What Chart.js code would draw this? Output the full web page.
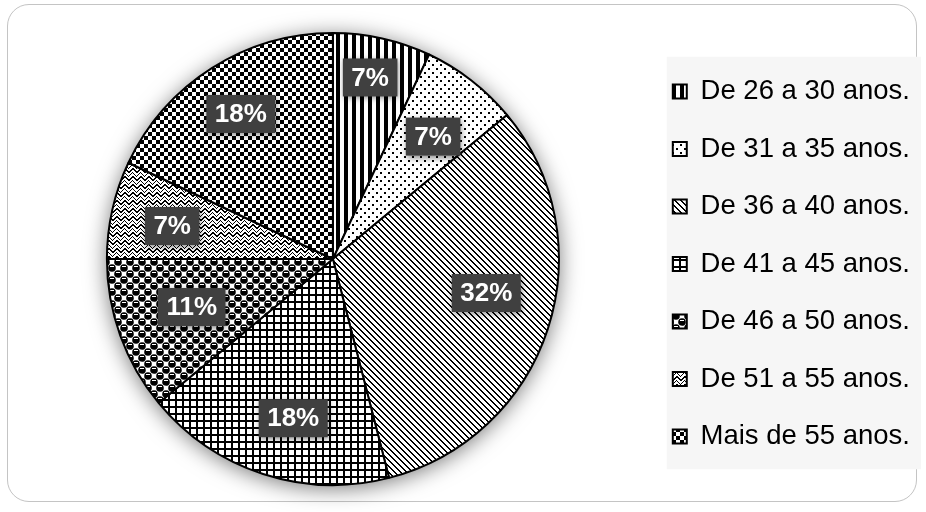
<!DOCTYPE html>
<html lang="pt">
<head>
    <meta charset="UTF-8">
    <title>Faixa etária</title>
    <script src="https://cdn.jsdelivr.net/npm/chart.js"></script>
    <style>
        body { margin: 0; background: #fff; }
        #frame { position: absolute; left: 7px; top: 4px; width: 908px; height: 496px; border: 1.5px solid #c4c4c4; border-radius: 22px; }
        #ageChart { position: absolute; left: 0; top: 0; }
    </style>
</head>
<body>
    <div id="frame"></div>
    <canvas id="ageChart" width="926" height="512"></canvas>

    <script>
        const faixas = ['De 26 a 30 anos.', 'De 31 a 35 anos.', 'De 36 a 40 anos.', 'De 41 a 45 anos.',
                        'De 46 a 50 anos.', 'De 51 a 55 anos.', 'Mais de 55 anos.'];
        const percentuais = [7, 7, 32, 18, 11, 7, 18];

        const canvas = document.getElementById('ageChart');
        const ctx = canvas.getContext('2d');

        // black-and-white hatch fills, one small tile per slice
        function makePattern(w, h, paint) {
            const tile = document.createElement('canvas');
            tile.width = w; tile.height = h;
            const g = tile.getContext('2d');
            g.fillStyle = '#fff';
            g.fillRect(0, 0, w, h);
            g.fillStyle = '#000';
            const px = (x, y) => g.fillRect(((x % w) + w) % w, ((y % h) + h) % h, 1, 1);
            paint(g, px);
            return ctx.createPattern(tile, 'repeat');
        }

        const padroes = [
            makePattern(8, 8, g => g.fillRect(0, 0, 4, 8)),                       // vertical stripes
            makePattern(8, 8, g => { g.fillRect(0, 0, 2, 2); g.fillRect(4, 4, 2, 2); }), // dots
            makePattern(6, 6, (g, px) => { for (let y = 0; y < 6; y++) { px(y, y); px(y + 1, y); } }), // diagonal
            makePattern(7, 7, g => { g.fillRect(0, 0, 7, 2); g.fillRect(0, 0, 2, 7); }),  // grid
            makePattern(12, 12, g => {                                              // spheres
                [[4, 4], [10, 10], [-2, -2], [-2, 10], [10, -2]].forEach(([cx, cy]) => {
                    g.fillStyle = '#000';
                    g.beginPath(); g.arc(cx, cy, 3.8, 0, Math.PI * 2); g.fill();
                    g.fillStyle = '#fff';
                    g.fillRect(cx - 2, cy - 2, 4, 1);
                });
            }),
            makePattern(8, 8, (g, px) => {                                          // zigzag
                for (let x = 0; x < 8; x++) {
                    const y = Math.abs(x - 4);
                    px(x, y); px(x + 1, y); px(x, y + 4);
                }
            }),
            makePattern(8, 8, g => { g.fillRect(0, 0, 4, 4); g.fillRect(4, 4, 4, 4); }) // checker
        ];

        // soft shadow behind the pie
        const sombra = {
            id: 'sombra',
            beforeDatasetsDraw(chart) {
                const arc = chart.getDatasetMeta(0).data[0];
                if (!arc) return;
                const c = chart.ctx;
                c.save();
                c.shadowColor = 'rgba(0,0,0,0.55)';
                c.shadowBlur = 22;
                c.shadowOffsetY = 3;
                c.fillStyle = '#fff';
                c.beginPath();
                c.arc(arc.x, arc.y, arc.outerRadius, 0, Math.PI * 2);
                c.fill();
                c.restore();
            }
        };

        // light grey panel under the legend
        const fundoLegenda = {
            id: 'fundoLegenda',
            beforeDraw(chart) {
                const hb = chart.legend && chart.legend.legendHitBoxes;
                if (!hb || !hb.length) return;
                const first = hb[0], last = hb[hb.length - 1];
                const left = first.left - 6, top = first.top - 21;
                const bottom = last.top + last.height + 19;
                chart.ctx.save();
                chart.ctx.fillStyle = '#f6f6f6';
                chart.ctx.fillRect(left, top, chart.width - 5 - left, bottom - top);
                chart.ctx.restore();
            }
        };

        // dark value boxes on each slice
        const etiquetas = {
            id: 'etiquetas',
            afterDatasetsDraw(chart, args, opts) {
                const c = chart.ctx;
                const values = chart.data.datasets[0].data;
                c.save();
                c.font = opts.font;
                c.textAlign = 'center';
                c.textBaseline = 'middle';
                chart.getDatasetMeta(0).data.forEach((arc, i) => {
                    const a = (arc.startAngle + arc.endAngle) / 2 + opts.turn[i] * Math.PI / 180;
                    const r = arc.outerRadius * opts.radius[i];
                    const x = arc.x + Math.cos(a) * r;
                    const y = arc.y + Math.sin(a) * r;
                    const text = values[i] + '%';
                    const w = c.measureText(text).width + opts.padX * 2;
                    const h = opts.height;
                    c.shadowColor = 'rgba(0,0,0,0.45)';
                    c.shadowBlur = 6;
                    c.shadowOffsetX = 1;
                    c.shadowOffsetY = 2;
                    c.fillStyle = '#404040';
                    c.fillRect(x - w / 2, y - h / 2, w, h);
                    c.shadowColor = 'transparent';
                    c.fillStyle = '#fff';
                    c.fillText(text, x, y + 1);
                });
                c.restore();
            }
        };

        new Chart(ctx, {
            type: 'pie',
            data: {
                labels: faixas,
                datasets: [{
                    data: percentuais,
                    backgroundColor: padroes,
                    borderColor: '#000',
                    borderWidth: 2,
                    hoverOffset: 0
                }]
            },
            options: {
                responsive: false,
                animation: false,
                layout: { padding: { left: 23, right: 6, top: 32, bottom: 26 } },
                plugins: {
                    legend: {
                        position: 'right',
                        align: 'center',
                        // empty title only pushes the items down a little
                        title: { display: true, text: '', font: { size: 0 }, padding: { top: 0, bottom: 10 } },
                        labels: {
                            boxWidth: 14,
                            boxHeight: 14,
                            padding: 30,
                            color: '#000',
                            font: { family: '"Liberation Sans", Arial, sans-serif', size: 27.5 }
                        }
                    },
                    tooltip: { enabled: false },
                    etiquetas: {
                        font: 'bold 26px "Liberation Sans", Arial, sans-serif',
                        padX: 8.5,
                        height: 38,
                        radius: [0.82, 0.70, 0.695, 0.726, 0.66, 0.726, 0.76],
                        turn: [-1, 1.5, -5.5, -4, 1, -1, 0]
                    }
                }
            },
            plugins: [fundoLegenda, sombra, etiquetas]
        });
    </script>
</body>
</html>
